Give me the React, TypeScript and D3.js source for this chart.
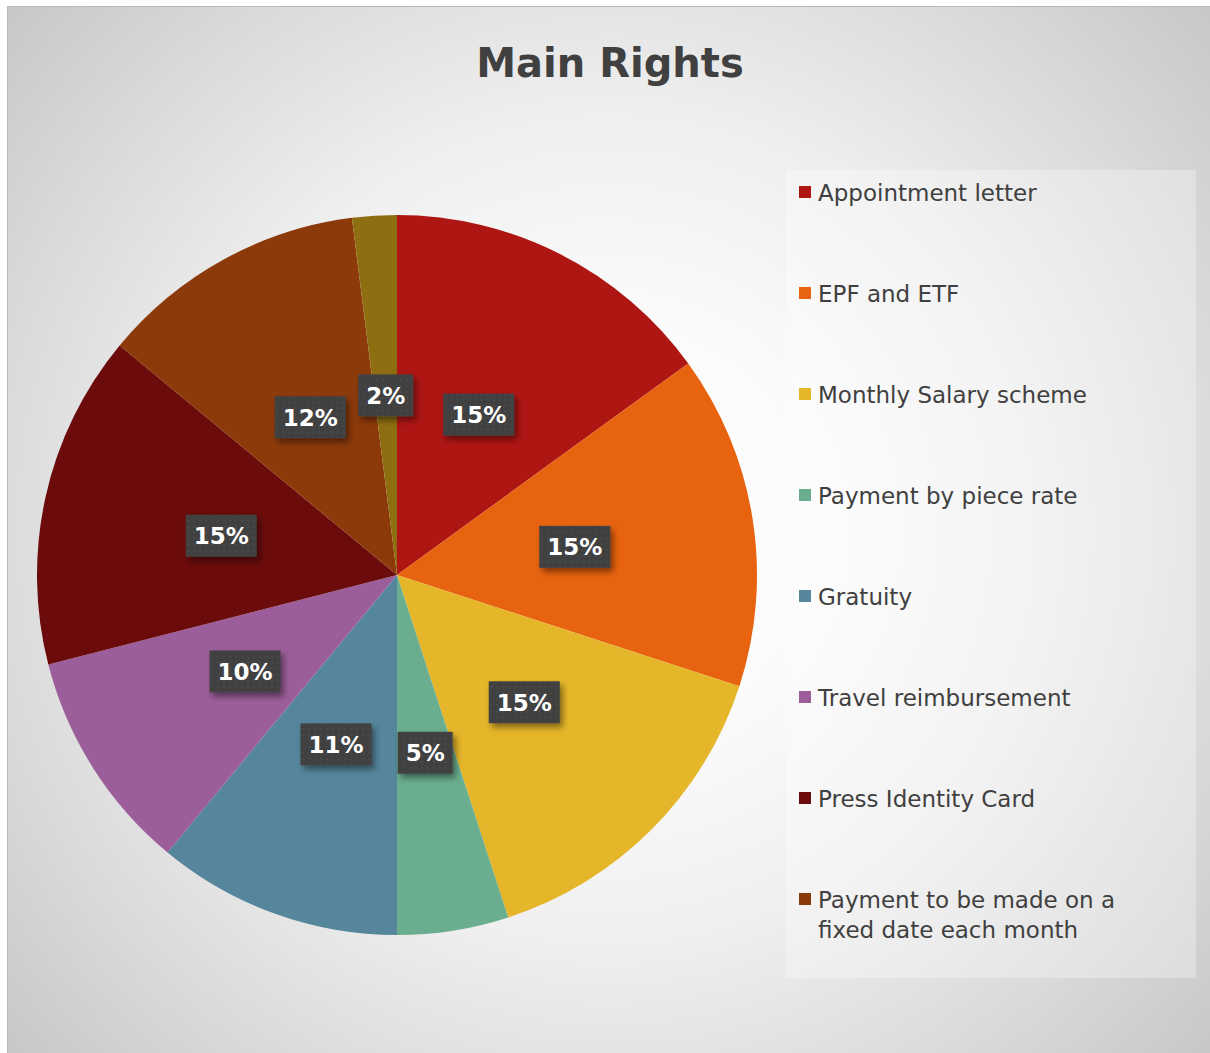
import React, { useEffect, useRef } from "react";
import * as d3 from "d3";

const title = "Main Rights";
const categories = [
  "Appointment letter",
  "EPF and ETF",
  "Monthly Salary scheme",
  "Payment by piece rate",
  "Gratuity",
  "Travel reimbursement",
  "Press Identity Card",
  "Payment to be made on a fixed date each month",
  "Other",
];
const values = [15, 15, 15, 5, 11, 10, 15, 12, 2];
const colors = [
  "#ae1614",
  "#e8630f",
  "#e5b62a",
  "#6aae8f",
  "#55869c",
  "#9b5e9a",
  "#6b0b0b",
  "#8c3a0a",
  "#8f6e12",
];
const legendCount = 8;

const W = 1210;
const H = 1053;

export default function App() {
  const ref = useRef<SVGSVGElement>(null);

  useEffect(() => {
    const svg = d3.select(ref.current);
    svg.selectAll("*").remove();
    const defs = svg.append("defs");

    const grad = defs
      .append("radialGradient")
      .attr("id", "bg")
      .attr("gradientUnits", "userSpaceOnUse")
      .attr("cx", 610)
      .attr("cy", 530)
      .attr("r", 830);
    [
      [0, "#ffffff"],
      [0.25, "#fbfbfb"],
      [0.5, "#efefef"],
      [0.75, "#dadada"],
      [1, "#c4c4c4"],
    ].forEach(([o, c]) => grad.append("stop").attr("offset", o as number).attr("stop-color", c as string));

    const pat = defs
      .append("pattern")
      .attr("id", "dots")
      .attr("patternUnits", "userSpaceOnUse")
      .attr("width", 6)
      .attr("height", 6);
    pat.append("rect").attr("width", 6).attr("height", 6).attr("fill", "#404040");
    pat.append("circle").attr("cx", 3).attr("cy", 3).attr("r", 1).attr("fill", "#4c4c4c");

    const sh = defs
      .append("filter")
      .attr("id", "shadow")
      .attr("x", "-30%")
      .attr("y", "-30%")
      .attr("width", "160%")
      .attr("height", "160%");
    sh.append("feDropShadow")
      .attr("dx", 3)
      .attr("dy", 4)
      .attr("stdDeviation", 3)
      .attr("flood-color", "#000")
      .attr("flood-opacity", 0.45);

    // background
    svg
      .append("rect")
      .attr("x", 7.5)
      .attr("y", 6.5)
      .attr("width", W)
      .attr("height", H)
      .attr("fill", "url(#bg)")
      .attr("stroke", "#b8b8b8")
      .attr("stroke-width", 1);

    // title
    svg
      .append("text")
      .attr("x", 610)
      .attr("y", 77)
      .attr("text-anchor", "middle")
      .attr("font-family", "DejaVu Sans")
      .attr("font-weight", "bold")
      .attr("font-size", 40)
      .attr("fill", "#404040")
      .text(title);

    // legend box
    svg
      .append("rect")
      .attr("x", 786)
      .attr("y", 170)
      .attr("width", 410)
      .attr("height", 808)
      .attr("fill", "#ffffff")
      .attr("fill-opacity", 0.3);

    // pie
    const cx = 397;
    const cy = 575;
    const r = 360;
    const total = d3.sum(values);
    const pie = d3.pie<number>().sort(null).value((d) => d);
    const arcs = pie(values);
    const arc = d3.arc<d3.PieArcDatum<number>>().innerRadius(0).outerRadius(r);
    const labelArc = d3.arc<d3.PieArcDatum<number>>().innerRadius(r / 2).outerRadius(r / 2);

    const g = svg.append("g").attr("transform", `translate(${cx},${cy})`);
    g.selectAll("path")
      .data(arcs)
      .join("path")
      .attr("d", arc)
      .attr("fill", (_, i) => colors[i]);

    const fmt = d3.format(".0%");
    const lg = g
      .selectAll("g.lbl")
      .data(arcs)
      .join("g")
      .attr("class", "lbl")
      .attr("transform", (d) => {
        const [x, y] = labelArc.centroid(d);
        return `translate(${x},${y})`;
      });
    lg.each(function (d) {
      const gg = d3.select(this);
      const rect = gg.append("rect").attr("fill", "url(#dots)").attr("filter", "url(#shadow)");
      const t = gg
        .append("text")
        .attr("text-anchor", "middle")
        .attr("dy", "0.36em")
        .attr("font-family", "DejaVu Sans")
        .attr("font-weight", "bold")
        .attr("font-size", 23)
        .attr("fill", "#ffffff")
        .text(fmt(d.value / total));
      const w = (t.node() as SVGTextElement).getComputedTextLength() + 16;
      const h = 42;
      rect.attr("x", -w / 2).attr("y", -h / 2).attr("width", w).attr("height", h);
    });

    // legend
    const lx = 799;
    const ly0 = 192;
    const step = 101;
    const maxW = 330;
    categories.slice(0, legendCount).forEach((name, i) => {
      const y = ly0 + i * step;
      svg
        .append("rect")
        .attr("x", lx)
        .attr("y", y - 6)
        .attr("width", 12)
        .attr("height", 12)
        .attr("fill", colors[i]);
      const t = svg
        .append("text")
        .attr("x", lx + 19)
        .attr("y", y + 9)
        .attr("font-family", "DejaVu Sans")
        .attr("font-size", 23)
        .attr("fill", "#404040");
      const words = name.split(" ");
      let line: string[] = [];
      let tspan = t.append("tspan").attr("x", lx + 19).attr("dy", 0);
      words.forEach((wd) => {
        line.push(wd);
        tspan.text(line.join(" "));
        if ((tspan.node() as SVGTSpanElement).getComputedTextLength() > maxW && line.length > 1) {
          line.pop();
          tspan.text(line.join(" "));
          line = [wd];
          tspan = t.append("tspan").attr("x", lx + 19).attr("dy", 30).text(wd);
        }
      });
    });
  }, []);

  return (
    <svg
      ref={ref}
      width={W}
      height={H}
      style={{ position: "absolute", left: 0, top: 0, display: "block" }}
    />
  );
}
